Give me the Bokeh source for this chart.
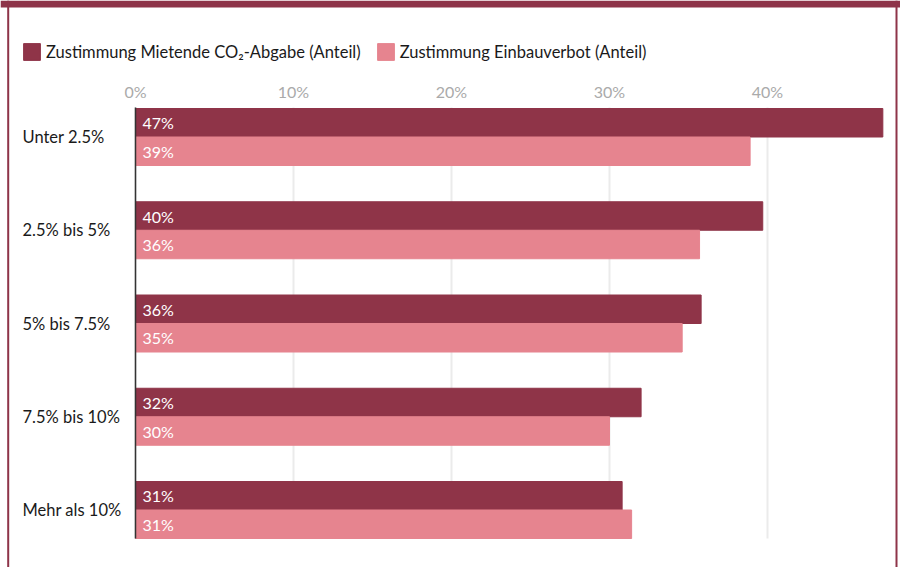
from bokeh.plotting import figure
from bokeh.models import ColumnDataSource, Range1d, Legend, LegendItem, Span
from bokeh.transform import dodge
from bokeh.core.properties import value
from bokeh.embed import file_html
from bokeh.resources import INLINE

# ---------------- data ----------------
categories = ["Unter 2.5%", "2.5% bis 5%", "5% bis 7.5%", "7.5% bis 10%", "Mehr als 10%"]
co2_share = [47.3, 39.7, 35.8, 32.0, 30.8]
ban_share = [38.9, 35.7, 34.6, 30.0, 31.4]
x_ticks = [0, 10, 20, 30, 40]
tick_labels = ["0%", "10%", "20%", "30%", "40%"]
series_names = ["Zustimmung Mietende CO₂-Abgabe (Anteil)", "Zustimmung Einbauverbot (Anteil)"]

# ---------------- style / layout ----------------
DARK = "#8f3448"
LIGHT = "#e6848f"
FRAME = "#8e3449"
FONT = "Lato"
W, H = 900, 567

PPU_X = 15.8          # pixels per percentage point
ZERO_PX = 135         # page x of the 0% line
PPU_Y = 93.25         # pixels per category step
FIRST_PX = 136.5      # page y of first category centre

def xd(px):   # page pixel -> data x
    return (px - ZERO_PX) / PPU_X

def yd(py):   # page pixel -> data y
    return (py - FIRST_PX) / PPU_Y

idx = list(range(len(categories)))
src = ColumnDataSource(dict(
    idx=idx,
    cat=categories,
    co2=co2_share,
    ban=ban_share,
    co2_lbl=[f"{round(v)}%" for v in co2_share],
    ban_lbl=[f"{round(v)}%" for v in ban_share],
    zero=[0] * len(categories),
    cat_x=[xd(22)] * len(categories),
))
tick_src = ColumnDataSource(dict(
    x=x_ticks, lbl=tick_labels,
    y=[yd(91)] * len(x_ticks),
    y0=[yd(107)] * len(x_ticks),
    y1=[yd(538)] * len(x_ticks),
))

p = figure(width=W, height=H, output_backend="svg", toolbar_location=None,
           x_range=Range1d(xd(0), xd(W)), y_range=Range1d(yd(H), yd(0)),
           min_border=0)
p.axis.visible = False
p.grid.visible = False
p.outline_line_color = None
p.background_fill_color = "white"
p.border_fill_color = "white"

# vertical gridlines
p.segment(x0="x", y0="y0", x1="x", y1="y1", source=tick_src,
          line_color="#ebebeb", line_width=2)

BH = 28.5 / PPU_Y
r1 = p.hbar(y=dodge("idx", -BH / 2), left=0, right="co2", height=BH, color=DARK, source=src)
r2 = p.hbar(y=dodge("idx", BH / 2), left=0, right="ban", height=BH, color=LIGHT, source=src)

# axis line at 0
p.segment(x0=[0], y0=[yd(107)], x1=[0], y1=[yd(538)], line_color="#333333", line_width=1.5)

# value labels inside bars
p.text(x="zero", y=dodge("idx", -BH / 2), text="co2_lbl", x_offset=7, source=src,
       text_baseline="middle", text_color="white", text_font=value(FONT), text_font_size="16px")
p.text(x="zero", y=dodge("idx", BH / 2), text="ban_lbl", x_offset=7, source=src,
       text_baseline="middle", text_color="white", text_font=value(FONT), text_font_size="16px")

# category labels
p.text(x="cat_x", y="idx", text="cat", source=src, text_baseline="middle", text_align="left",
       text_color="#1a1a1a", text_font=value(FONT), text_font_size="16.5px")

# tick labels on top
p.text(x="x", y="y", text="lbl", source=tick_src, text_baseline="middle", text_align="center",
       text_color="#aaaaaa", text_font=value(FONT), text_font_size="16px")

# frame decoration
p.add_layout(Span(location=yd(3.5), dimension="width", line_color=FRAME, line_width=7))
p.add_layout(Span(location=xd(7.7), dimension="height", line_color=FRAME, line_width=2))
p.add_layout(Span(location=xd(896), dimension="height", line_color=FRAME, line_width=2))

legend = Legend(items=[LegendItem(label=series_names[0], renderers=[r1]),
                       LegendItem(label=series_names[1], renderers=[r2])],
                orientation="horizontal", location=(21, H - 62),
                glyph_width=21, glyph_height=21, label_standoff=4, spacing=14,
                padding=0, margin=0, border_line_color=None, background_fill_alpha=0,
                label_text_font=FONT, label_text_font_size="16.5px", label_text_color="#1a1a1a")
p.add_layout(legend, "center")

open("out.html", "w").write(file_html(p, INLINE))
